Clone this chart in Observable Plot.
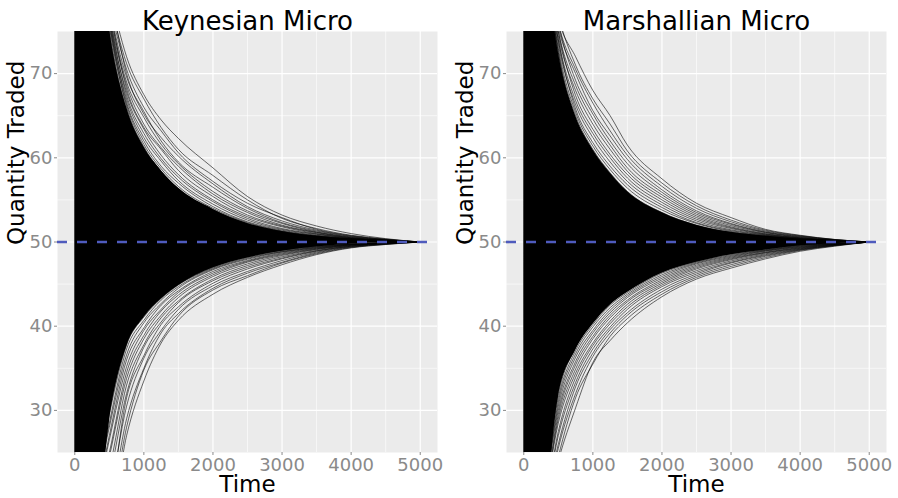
<!DOCTYPE html>
<html><head><meta charset="utf-8">
<script src="https://cdn.jsdelivr.net/npm/d3@7"></script>
<script src="https://cdn.jsdelivr.net/npm/@observablehq/plot@0.6"></script>
<style>
body{margin:0;background:#fff;font-family:"DejaVu Sans",sans-serif;}
#wrap{display:flex;width:898px;height:498px;}
</style></head><body><div id="wrap"></div>
<script>
// sample times
const T = [0, 250, 500, 750, 1000, 1250, 1500, 2000, 2500, 3000, 3500, 4000, 4500, 5000];
const xTicks = [0, 1000, 2000, 3000, 4000, 5000];
const xMinor = [500, 1500, 2500, 3500, 4500];
const yTicks = [30, 40, 50, 60, 70];
const yMinor = [35, 45, 55, 65];
const equilibrium = [50];
const titles = ["Keynesian Micro", "Marshallian Micro"];

// Keynesian: dense core band and fringe paths
const keyCoreHi = [100, 95, 75.5, 66, 61.3, 58.5, 56.4, 53.9, 52.2, 51.25, 50.7, 50.35, 50.12, 50];
const keyCoreLo = [0, 8, 28.5, 37.5, 41.0, 43.2, 44.8, 46.9, 48.1, 48.9, 49.4, 49.74, 49.9, 50];
const keyUpper = [
  [100, 90, 80, 72, 67.5, 64.5, 62.3, 58.8, 55.4, 53.2, 51.9, 51.0, 50.4, 50],
  [100, 90, 79, 71.2, 67, 63.6, 61.0, 57.9, 55.0, 52.8, 51.6, 50.8, 50.35, 50],
  [100, 90, 78.5, 70.5, 66, 63.2, 60.6, 57.2, 54.6, 52.9, 51.5, 50.75, 50.3, 50],
  [100, 90, 80, 70, 65.2, 62.4, 60.2, 56.9, 54.2, 52.5, 51.4, 50.7, 50.3, 50],
  [100, 90, 78, 69.6, 65.5, 62, 59.5, 56.5, 54.0, 52.3, 51.3, 50.65, 50.25, 50],
  [100, 90, 77.5, 69, 64.8, 61.6, 59.3, 56.0, 53.7, 52.2, 51.2, 50.6, 50.25, 50],
  [100, 90, 77, 68.6, 64, 61.2, 59, 55.7, 53.5, 52.0, 51.15, 50.55, 50.2, 50],
  [100, 90, 78, 68.2, 63.6, 61.0, 58.5, 55.4, 53.2, 51.9, 51.1, 50.5, 50.2, 50],
  [100, 90, 76.5, 67.8, 63.4, 60.3, 58.0, 55.0, 53.0, 51.8, 51.0, 50.5, 50.2, 50],
  [100, 90, 77, 67.4, 62.9, 59.9, 57.7, 54.8, 52.8, 51.6, 50.95, 50.45, 50.18, 50],
  [100, 90, 76, 67, 62.4, 59.6, 57.3, 54.5, 52.6, 51.5, 50.9, 50.42, 50.16, 50],
  [100, 90, 76.5, 66.6, 62.0, 59.0, 57.0, 54.2, 52.4, 51.4, 50.8, 50.4, 50.15, 50],
  [100, 90, 75.5, 66.3, 61.6, 58.7, 56.6, 54.0, 52.3, 51.3, 50.75, 50.38, 50.14, 50],
  [100, 90, 76, 66, 61.3, 58.4, 56.3, 53.8, 52.2, 51.25, 50.7, 50.35, 50.12, 50],
  [100, 90, 75, 65.6, 61, 58.2, 56.0, 53.6, 52.1, 51.2, 50.65, 50.33, 50.12, 50],
  [100, 90, 74.5, 65.2, 60.6, 57.8, 55.8, 53.5, 52.0, 51.1, 50.6, 50.3, 50.1, 50]
];
const keyLower = [
  [10, 14, 16, 27, 33.5, 38, 40.7, 43.8, 45.8, 47.3, 48.5, 49.3, 49.7, 50],
  [10, 14, 17, 28, 34.8, 38.3, 41.2, 44.3, 46.0, 47.5, 48.6, 49.35, 49.72, 50],
  [10, 15, 18.5, 29, 35, 39.2, 41.5, 44.5, 46.3, 47.6, 48.7, 49.4, 49.75, 50],
  [10, 15, 20, 30.5, 36.2, 39.5, 42.0, 44.8, 46.5, 47.8, 48.8, 49.45, 49.78, 50],
  [10, 15, 19, 31.5, 36.5, 40.2, 42.3, 45.1, 46.8, 48.0, 48.9, 49.5, 49.8, 50],
  [10, 16, 22, 32, 37.5, 40.5, 42.8, 45.4, 47.0, 48.1, 48.95, 49.5, 49.8, 50],
  [10, 16, 23, 33, 37.8, 41.0, 43.0, 45.6, 47.2, 48.25, 49.0, 49.55, 49.82, 50],
  [10, 16, 24.5, 33.8, 38.5, 41.3, 43.4, 45.9, 47.4, 48.4, 49.1, 49.6, 49.85, 50],
  [10, 17, 25, 34.5, 38.9, 41.8, 43.7, 46.1, 47.6, 48.5, 49.15, 49.6, 49.85, 50],
  [10, 17, 26.5, 35.2, 39.5, 42.0, 44.0, 46.3, 47.7, 48.6, 49.2, 49.65, 49.87, 50],
  [10, 17, 27, 36, 39.8, 42.5, 44.2, 46.5, 47.8, 48.7, 49.25, 49.67, 49.88, 50],
  [10, 18, 28, 36.6, 40.4, 42.7, 44.5, 46.7, 47.95, 48.8, 49.3, 49.7, 49.9, 50],
  [10, 18, 28.5, 37.3, 40.7, 43.1, 44.7, 46.8, 48.05, 48.85, 49.35, 49.72, 49.9, 50],
  [10, 18, 29.5, 37.8, 41.1, 43.3, 44.9, 46.9, 48.15, 48.9, 49.4, 49.74, 49.9, 50],
  [10, 19, 30, 38.3, 41.5, 43.5, 45.0, 47.0, 48.25, 49.0, 49.45, 49.76, 49.92, 50],
  [10, 19, 31, 38.8, 41.8, 43.7, 45.2, 47.1, 48.3, 49.05, 49.5, 49.78, 49.92, 50]
];

// Marshallian: dense core band and fringe paths
const marCoreHi = [100, 88, 72.5, 65, 61, 58.2, 56.0, 53.5, 52.0, 51.15, 50.7, 50.34, 50.11, 50];
const marCoreLo = [0, 12, 31.5, 37.1, 40.2, 42.5, 44.0, 46.3, 47.6, 48.5, 49.05, 49.55, 49.8, 50];
const marUpper = [
  [100, 88, 76.5, 72, 68, 65, 61.5, 57.5, 54.6, 52.9, 51.5, 50.8, 50.3, 50],
  [100, 88, 77, 71, 67, 64, 60.8, 57.0, 54.3, 52.6, 51.4, 50.75, 50.3, 50],
  [100, 88, 76, 70.5, 66.5, 63.2, 60.3, 56.6, 54.0, 52.4, 51.3, 50.7, 50.28, 50],
  [100, 88, 75.5, 70, 65.6, 62.6, 59.8, 56.2, 53.7, 52.2, 51.2, 50.65, 50.25, 50],
  [100, 88, 76, 69.2, 65.2, 62.0, 59.3, 55.9, 53.5, 52.1, 51.15, 50.6, 50.22, 50],
  [100, 88, 75, 68.6, 64.6, 61.5, 58.8, 55.6, 53.3, 51.95, 51.1, 50.55, 50.2, 50],
  [100, 88, 74.5, 68, 64, 61.0, 58.4, 55.3, 53.1, 51.8, 51.0, 50.5, 50.2, 50],
  [100, 88, 75, 67.4, 63.4, 60.4, 58.0, 55.0, 52.9, 51.7, 50.95, 50.48, 50.18, 50],
  [100, 88, 74, 66.8, 62.9, 60.0, 57.6, 54.7, 52.7, 51.6, 50.9, 50.45, 50.16, 50],
  [100, 88, 73.5, 66.3, 62.4, 59.5, 57.2, 54.4, 52.5, 51.45, 50.85, 50.42, 50.15, 50],
  [100, 88, 74, 65.8, 61.8, 59.0, 56.8, 54.1, 52.3, 51.35, 50.8, 50.4, 50.14, 50],
  [100, 88, 73, 65.4, 61.4, 58.6, 56.4, 53.8, 52.2, 51.25, 50.75, 50.37, 50.12, 50],
  [100, 88, 72.5, 65, 61, 58.2, 56.0, 53.5, 52.0, 51.15, 50.7, 50.34, 50.11, 50],
  [100, 88, 72, 64.5, 60.6, 57.8, 55.6, 53.3, 51.9, 51.1, 50.65, 50.32, 50.1, 50],
  [100, 88, 72.5, 64.2, 60.3, 57.5, 55.3, 53.1, 51.8, 51.0, 50.6, 50.3, 50.1, 50],
  [100, 88, 71.5, 63.8, 59.9, 57.1, 55.0, 52.95, 51.7, 50.95, 50.55, 50.28, 50.09, 50]
];
const marLower = [
  [10, 15, 24, 30.3, 35.7, 38.3, 40.4, 43.5, 45.6, 46.9, 48.0, 48.9, 49.5, 50],
  [10, 15, 24.5, 31.5, 35.5, 38.8, 40.9, 43.8, 45.8, 47.1, 48.15, 49.0, 49.55, 50],
  [10, 15, 25.5, 32, 36.4, 39.2, 41.3, 44.1, 46.0, 47.3, 48.3, 49.05, 49.58, 50],
  [10, 16, 26, 32.8, 36.8, 39.6, 41.6, 44.4, 46.2, 47.5, 48.4, 49.1, 49.6, 50],
  [10, 16, 27, 33.3, 37.3, 39.9, 42.0, 44.7, 46.4, 47.6, 48.5, 49.15, 49.62, 50],
  [10, 16, 27.5, 33.9, 37.7, 40.3, 42.3, 44.9, 46.6, 47.75, 48.6, 49.2, 49.65, 50],
  [10, 17, 28.5, 34.4, 38.0, 40.6, 42.6, 45.1, 46.8, 47.9, 48.7, 49.25, 49.68, 50],
  [10, 17, 29, 34.9, 38.5, 41.0, 42.9, 45.3, 46.95, 48.0, 48.75, 49.3, 49.7, 50],
  [10, 17, 29.5, 35.4, 38.8, 41.3, 43.1, 45.5, 47.1, 48.1, 48.8, 49.35, 49.72, 50],
  [10, 18, 30, 35.8, 39.2, 41.6, 43.4, 45.7, 47.25, 48.2, 48.9, 49.4, 49.74, 50],
  [10, 18, 30.5, 36.3, 39.5, 41.9, 43.6, 45.9, 47.4, 48.3, 48.95, 49.45, 49.76, 50],
  [10, 18, 31, 36.7, 39.9, 42.2, 43.8, 46.1, 47.5, 48.4, 49.0, 49.5, 49.78, 50],
  [10, 19, 31.5, 37.1, 40.2, 42.5, 44.0, 46.3, 47.6, 48.5, 49.05, 49.55, 49.8, 50],
  [10, 19, 32, 37.5, 40.5, 42.7, 44.2, 46.45, 47.7, 48.6, 49.1, 49.6, 49.82, 50],
  [10, 19, 32.5, 37.8, 40.8, 42.9, 44.4, 46.55, 47.8, 48.7, 49.2, 49.65, 49.85, 50],
  [10, 20, 33, 38.2, 41.1, 43.1, 44.6, 46.7, 47.9, 48.8, 49.25, 49.68, 49.87, 50]
];

const tickColor = "#8a8a8a";
const dashColor = "#4f5bbd";

function panel(title, coreHi, coreLo, upper, lower) {
  const coreRows = T.map((t, i) => ({t, lo: coreLo[i], hi: coreHi[i]}));
  const lineRows = [];
  upper.forEach((arr, k) => arr.forEach((q, i) => lineRows.push({id: "u" + k, t: T[i], q})));
  lower.forEach((arr, k) => arr.forEach((q, i) => lineRows.push({id: "l" + k, t: T[i], q})));
  return Plot.plot({
    width: 449, height: 498,
    marginTop: 31, marginBottom: 46, marginLeft: 57, marginRight: 12,
    style: {fontFamily: "DejaVu Sans", background: "#fff", overflow: "visible"},
    x: {domain: [-250, 5250], axis: null},
    y: {domain: [25, 75], axis: null},
    marks: [
      Plot.frame({fill: "#ebebeb"}),
      Plot.ruleY(yMinor, {stroke: "#fff", strokeWidth: 0.6}),
      Plot.ruleX(xMinor, {stroke: "#fff", strokeWidth: 0.6}),
      Plot.ruleY(yTicks, {stroke: "#fff", strokeWidth: 1.2}),
      Plot.ruleX(xTicks, {stroke: "#fff", strokeWidth: 1.2}),
      Plot.areaY(coreRows, {x: "t", y1: "lo", y2: "hi", fill: "#000", curve: "monotone-x", clip: true}),
      Plot.line(lineRows, {x: "t", y: "q", z: "id", stroke: "#000", strokeWidth: 0.9, strokeOpacity: 0.65, curve: "monotone-x", clip: true}),
      Plot.ruleY(equilibrium, {stroke: dashColor, strokeWidth: 2.6, strokeDasharray: "10,10"}),
      Plot.axisX(xTicks, {tickSize: 3, tickPadding: 3, fontSize: 18, color: tickColor, label: null, tickFormat: d => String(d)}),
      Plot.axisY(yTicks, {tickSize: 3, tickPadding: 2, fontSize: 18, color: tickColor, label: null, tickFormat: d => String(d)}),
      Plot.text([title], {text: d => d, frameAnchor: "top", dy: -2, lineAnchor: "bottom", fontSize: 26, fill: "#000"}),
      Plot.text(["Quantity Traded"], {text: d => d, frameAnchor: "left", dx: -34, dy: 3, rotate: -90, lineAnchor: "bottom", fontSize: 23, fill: "#000"}),
      Plot.text(["Time"], {text: d => d, frameAnchor: "bottom", dy: 39, lineAnchor: "bottom", fontSize: 23, fill: "#000"})
    ]
  });
}

const wrap = document.getElementById("wrap");
wrap.appendChild(panel(titles[0], keyCoreHi, keyCoreLo, keyUpper, keyLower));
wrap.appendChild(panel(titles[1], marCoreHi, marCoreLo, marUpper, marLower));
</script></body></html>
